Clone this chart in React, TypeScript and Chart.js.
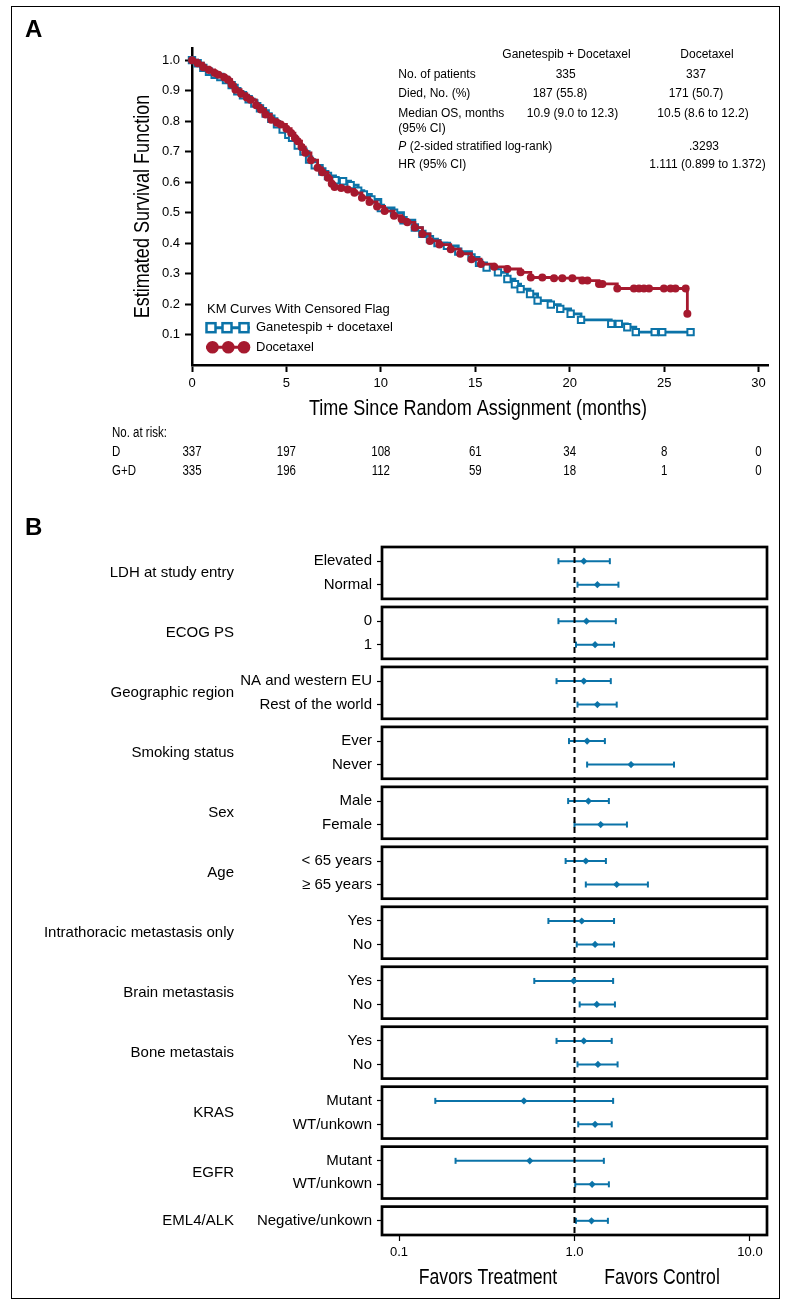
import { useEffect, useRef } from "react";
import Chart from "chart.js/auto";

const BLUE = "#0b73a8";
const RED = "#a6192e";
const FONT = "'Liberation Sans', Arial, Helvetica, sans-serif";
const NARROW_SCALE = 0.82;

// ---------- Panel A: Kaplan-Meier data (time in months, survival) ----------
const armLabels = ["Ganetespib + docetaxel", "Docetaxel"];
const legendTitle = "KM Curves With Censored Flag";
const kmXTitle = "Time Since Random Assignment (months)";
const kmYTitle = "Estimated Survival Function";

const docetaxelCurve: [number, number][] = [
  [0, 1.0], [0.3, 0.99], [0.6, 0.977], [0.9, 0.968], [1.2, 0.958], [1.4, 0.952], [1.7, 0.944],
  [1.9, 0.936], [2.1, 0.92], [2.3, 0.903], [2.6, 0.89], [2.9, 0.878], [3.1, 0.87], [3.4, 0.852],
  [3.65, 0.838], [3.9, 0.822], [4.2, 0.805], [4.5, 0.795], [4.7, 0.789], [5.0, 0.775], [5.25, 0.761],
  [5.45, 0.745], [5.6, 0.734], [5.8, 0.715], [6.0, 0.696], [6.3, 0.672], [6.65, 0.647], [6.9, 0.632],
  [7.2, 0.614], [7.4, 0.595], [7.55, 0.584], [7.9, 0.581], [8.25, 0.576], [8.6, 0.565], [9.0, 0.549],
  [9.4, 0.535], [9.8, 0.52], [10.2, 0.505], [10.7, 0.49], [11.1, 0.478], [11.4, 0.468], [11.8, 0.451],
  [12.2, 0.43], [12.6, 0.407], [13.1, 0.395], [13.7, 0.38], [14.2, 0.365], [14.8, 0.347], [15.3, 0.331],
  [16.0, 0.322], [16.7, 0.315], [17.4, 0.304], [17.94, 0.287], [18.55, 0.287], [19.17, 0.285],
  [19.61, 0.285], [20.14, 0.285], [20.67, 0.277], [20.94, 0.277], [21.55, 0.266], [21.73, 0.266],
  [22.52, 0.251], [23.4, 0.251], [23.67, 0.251], [23.93, 0.251], [24.2, 0.251], [24.99, 0.251],
  [25.34, 0.251], [25.6, 0.251], [26.14, 0.251], [26.23, 0.168],
];

const ganetespibCurve: [number, number][] = [
  [0, 1.0], [0.3, 0.99], [0.6, 0.975], [0.9, 0.962], [1.2, 0.952], [1.5, 0.945], [1.8, 0.935],
  [2.1, 0.918], [2.4, 0.898], [2.7, 0.885], [3.0, 0.872], [3.3, 0.858], [3.6, 0.842], [3.9, 0.825],
  [4.2, 0.808], [4.5, 0.79], [4.8, 0.772], [5.1, 0.755], [5.3, 0.745], [5.6, 0.72], [5.9, 0.7],
  [6.2, 0.674], [6.5, 0.655], [6.9, 0.635], [7.2, 0.62], [7.6, 0.606], [8.0, 0.603], [8.4, 0.59],
  [8.8, 0.572], [9.1, 0.56], [9.5, 0.543], [10.0, 0.515], [10.7, 0.5], [11.2, 0.475], [11.8, 0.451],
  [12.2, 0.43], [12.6, 0.413], [13.0, 0.4], [13.5, 0.391], [14.1, 0.372], [14.8, 0.353], [15.2, 0.335],
  [15.6, 0.32], [16.2, 0.304], [16.7, 0.282], [17.1, 0.265], [17.4, 0.249], [17.9, 0.233], [18.3, 0.211],
  [19.0, 0.198], [19.5, 0.184], [20.05, 0.168], [20.6, 0.148], [22.2, 0.135], [22.6, 0.135],
  [23.05, 0.124], [23.5, 0.108], [24.5, 0.108], [24.9, 0.108], [26.4, 0.108],
];

const kmXTicks = [0, 5, 10, 15, 20, 25, 30];
const kmYTicks = [0.1, 0.2, 0.3, 0.4, 0.5, 0.6, 0.7, 0.8, 0.9, 1.0];

const riskTimes = [0, 5, 10, 15, 20, 25, 30];
const riskRowLabels = ["D", "G+D"];
const riskD = [337, 197, 108, 61, 34, 8, 0];
const riskGD = [335, 196, 112, 59, 18, 1, 0];

const tableHeader = ["Ganetespib + Docetaxel", "Docetaxel"];
const tableLabels = ["No. of patients", "Died, No. (%)", "Median OS, months", "(95% CI)", "(2-sided stratified log-rank)", "HR (95% CI)"];
const tableGD = ["335", "187 (55.8)", "10.9 (9.0 to 12.3)", "", "", ""];
const tableD = ["337", "171 (50.7)", "10.5 (8.6 to 12.2)", "", ".3293", "1.111 (0.899 to 1.372)"];

// ---------- Panel B: forest plot data ----------
const groupNames = [
  "LDH at study entry", "ECOG PS", "Geographic region", "Smoking status", "Sex", "Age",
  "Intrathoracic metastasis only", "Brain metastasis", "Bone metastais", "KRAS", "EGFR", "EML4/ALK",
];
const subgroupLabels = [
  "Elevated", "Normal", "0", "1", "NA and western EU", "Rest of the world", "Ever", "Never",
  "Male", "Female", "< 65 years", "\u2265 65 years", "Yes", "No", "Yes", "No", "Yes", "No",
  "Mutant", "WT/unkown", "Mutant", "WT/unkown", "Negative/unkown",
];
const subgroupGroup = [0, 0, 1, 1, 2, 2, 3, 3, 4, 4, 5, 5, 6, 6, 7, 7, 8, 8, 9, 9, 10, 10, 11];
const hazardRatio = [1.13, 1.35, 1.17, 1.31, 1.13, 1.35, 1.18, 2.1, 1.2, 1.41, 1.16, 1.74, 1.1, 1.31, 0.99, 1.34, 1.13, 1.36, 0.515, 1.31, 0.556, 1.26, 1.25];
const ciLow = [0.81, 1.04, 0.81, 1.02, 0.79, 1.04, 0.93, 1.18, 0.92, 1.0, 0.89, 1.16, 0.71, 1.03, 0.59, 1.07, 0.79, 1.04, 0.161, 1.05, 0.21, 1.01, 1.02];
const ciHigh = [1.59, 1.78, 1.72, 1.68, 1.61, 1.74, 1.49, 3.69, 1.57, 1.99, 1.51, 2.62, 1.68, 1.68, 1.66, 1.7, 1.63, 1.76, 1.66, 1.63, 1.47, 1.57, 1.55];
const forestXTicks = [0.1, 1, 10];
const forestXTickLabels = ["0.1", "1.0", "10.0"];
const favorsLabels = ["Favors Treatment", "Favors Control"];

// layout of panels (derived from the groups above)
const PANEL_STEP = 60;
const ROW_FIRST = 14.2;
const ROW_GAP = 23.5;
const rowY: number[] = [];
const panels: { top: number; bottom: number; mid: number; name: string }[] = [];
groupNames.forEach((name, g) => {
  const top = g * PANEL_STEP;
  const idx = subgroupGroup.map((gg, i) => (gg === g ? i : -1)).filter((i) => i >= 0);
  const ys = idx.map((_, k) => top + ROW_FIRST + k * ROW_GAP);
  idx.forEach((i, k) => (rowY[i] = ys[k]));
  const bottom = ys[ys.length - 1] + ROW_FIRST;
  panels.push({ top, bottom, mid: (ys[0] + ys[ys.length - 1]) / 2, name });
});
const forestYMax = panels[panels.length - 1].bottom;

// draw condensed text (Arial-Narrow-like) by compressing Liberation Sans horizontally
function narrowText(
  ctx: CanvasRenderingContext2D, text: string, x: number, y: number, size: number,
  align: CanvasTextAlign = "left", rotate = 0,
) {
  ctx.save();
  ctx.translate(x, y);
  if (rotate) ctx.rotate(rotate);
  ctx.scale(NARROW_SCALE, 1);
  ctx.font = `${size}px ${FONT}`;
  ctx.textAlign = align;
  ctx.textBaseline = "middle";
  ctx.fillStyle = "#000";
  ctx.fillText(text, 0, 0);
  ctx.restore();
}

export default function App() {
  const kmRef = useRef<HTMLCanvasElement>(null);
  const fpRef = useRef<HTMLCanvasElement>(null);

  useEffect(() => {
    Chart.defaults.font.family = FONT;
    Chart.defaults.color = "#000";

    const kmDecor = {
      id: "kmDecor",
      afterDraw(chart: any) {
        const ctx = chart.ctx as CanvasRenderingContext2D;
        const xs = chart.scales.x;
        const ca = chart.chartArea;
        ctx.save();
        ctx.fillStyle = "#000";
        ctx.textBaseline = "alphabetic";
        ctx.textAlign = "left";
        ctx.font = `bold 24px ${FONT}`;
        ctx.fillText("A", 25, 37);

        // axis titles
        narrowText(ctx, kmXTitle, (ca.left + ca.right) / 2 - 2, 409, 22, "center");
        narrowText(ctx, kmYTitle, 143, (ca.top + ca.bottom) / 2, 22, "center", -Math.PI / 2);

        // summary table
        ctx.textBaseline = "middle";
        ctx.font = `12px ${FONT}`;
        ctx.textAlign = "center";
        ctx.fillText(tableHeader[0], 566.5, 55);
        ctx.fillText(tableHeader[1], 707, 55);
        const rowYs = [74.3, 94, 114, 128.3, 146.7, 165];
        const gdX = [565.7, 560, 572.5, 566, 566, 566];
        const dX = [696, 696, 703, 703, 704, 707.5];
        tableLabels.forEach((lab, i) => {
          ctx.textAlign = "left";
          if (i === 4) {
            ctx.font = `italic 12px ${FONT}`;
            ctx.fillText("P", 398.3, rowYs[i]);
            const w = ctx.measureText("P ").width;
            ctx.font = `12px ${FONT}`;
            ctx.fillText(lab, 398.3 + w, rowYs[i]);
          } else {
            ctx.fillText(lab, 398.3, rowYs[i]);
          }
          ctx.textAlign = "center";
          if (tableGD[i]) ctx.fillText(tableGD[i], gdX[i], rowYs[i]);
          if (tableD[i]) ctx.fillText(tableD[i], dX[i], rowYs[i]);
        });

        // legend
        ctx.textAlign = "left";
        ctx.font = `13px ${FONT}`;
        ctx.fillText(legendTitle, 207, 309);
        ctx.strokeStyle = BLUE;
        ctx.lineWidth = 3;
        ctx.beginPath();
        ctx.moveTo(206, 327.7);
        ctx.lineTo(250, 327.7);
        ctx.stroke();
        [211, 227, 244].forEach((x) => {
          ctx.fillStyle = "#fff";
          ctx.fillRect(x - 4.5, 327.7 - 4.5, 9, 9);
          ctx.lineWidth = 2.5;
          ctx.strokeRect(x - 4.5, 327.7 - 4.5, 9, 9);
        });
        ctx.strokeStyle = RED;
        ctx.lineWidth = 3;
        ctx.beginPath();
        ctx.moveTo(206, 347.3);
        ctx.lineTo(250, 347.3);
        ctx.stroke();
        ctx.fillStyle = RED;
        [212.5, 228.3, 244].forEach((x) => {
          ctx.beginPath();
          ctx.arc(x, 347.3, 6.3, 0, Math.PI * 2);
          ctx.fill();
        });
        ctx.fillStyle = "#000";
        ctx.fillText(armLabels[0], 256, 327.7);
        ctx.fillText(armLabels[1], 256, 347.3);

        // number at risk
        narrowText(ctx, "No. at risk:", 112, 433, 14);
        narrowText(ctx, riskRowLabels[0], 112, 452, 14);
        narrowText(ctx, riskRowLabels[1], 112, 471, 14);
        riskTimes.forEach((t, i) => {
          const px = xs.getPixelForValue(t);
          narrowText(ctx, String(riskD[i]), px, 452, 14, "center");
          narrowText(ctx, String(riskGD[i]), px, 471, 14, "center");
        });
        ctx.restore();
      },
    };

    const km = new Chart(kmRef.current!, {
      type: "scatter",
      data: {
        datasets: [
          {
            label: armLabels[1],
            data: docetaxelCurve.map(([x, y]) => ({ x, y })),
            showLine: true,
            stepped: true,
            borderColor: RED,
            borderWidth: 2.8,
            pointStyle: "circle",
            pointRadius: 4,
            pointBackgroundColor: RED,
            pointBorderColor: RED,
            pointBorderWidth: 0,
            clip: false,
            order: 0,
          } as any,
          {
            label: armLabels[0],
            data: ganetespibCurve.map(([x, y]) => ({ x, y })),
            showLine: true,
            stepped: true,
            borderColor: BLUE,
            borderWidth: 2.8,
            pointStyle: "rect",
            pointRadius: 4.5,
            pointBackgroundColor: "#fff",
            pointBorderColor: BLUE,
            pointBorderWidth: 2,
            clip: false,
            order: 1,
          } as any,
        ],
      },
      options: {
        animation: false,
        responsive: false,
        events: [],
        layout: { padding: { left: 130, right: 23, top: 48, bottom: 75 } },
        plugins: { legend: { display: false }, tooltip: { enabled: false } },
        scales: {
          x: {
            type: "linear",
            min: 0,
            max: 30.5,
            afterFit: (s: any) => { s.height = 60; },
            afterBuildTicks: (a: any) => { a.ticks = kmXTicks.map((v) => ({ value: v })); },
            ticks: { font: { size: 13 }, color: "#000", padding: 4, maxRotation: 0, autoSkip: false, callback: (v: any) => String(v) },
            grid: { drawOnChartArea: false, tickLength: 7, tickWidth: 2, color: "#000" },
            border: { display: true, color: "#000", width: 2.5 },
          },
          y: {
            type: "linear",
            min: 0,
            max: 1.04,
            afterFit: (s: any) => { s.width = 62; },
            afterBuildTicks: (a: any) => { a.ticks = kmYTicks.map((v) => ({ value: v })); },
            ticks: { font: { size: 13 }, color: "#000", padding: 5, autoSkip: false, callback: (v: any) => Number(v).toFixed(1) },
            grid: { drawOnChartArea: false, tickLength: 7, tickWidth: 2, color: "#000" },
            border: { display: true, color: "#000", width: 2.5 },
          },
        },
      },
      plugins: [kmDecor],
    } as any);

    const fpDecor = {
      id: "fpDecor",
      beforeDatasetsDraw(chart: any) {
        const ctx = chart.ctx as CanvasRenderingContext2D;
        const ys = chart.scales.y;
        const { left, right } = chart.chartArea;
        ctx.save();
        ctx.strokeStyle = "#000";
        ctx.lineWidth = 2.7;
        panels.forEach((p) => {
          const t = ys.getPixelForValue(p.top);
          const b = ys.getPixelForValue(p.bottom);
          ctx.strokeRect(left, t, right - left, b - t);
        });
        ctx.restore();
      },
      afterDraw(chart: any) {
        const ctx = chart.ctx as CanvasRenderingContext2D;
        const ys = chart.scales.y;
        ctx.save();
        ctx.fillStyle = "#000";
        ctx.textAlign = "left";
        ctx.textBaseline = "alphabetic";
        ctx.font = `bold 24px ${FONT}`;
        ctx.fillText("B", 25, 35);
        ctx.font = `15px ${FONT}`;
        ctx.textAlign = "right";
        ctx.textBaseline = "middle";
        panels.forEach((p) => ctx.fillText(p.name, 234, ys.getPixelForValue(p.mid)));
        narrowText(ctx, favorsLabels[0], 488, 778, 21.5, "center");
        narrowText(ctx, favorsLabels[1], 662, 778, 21.5, "center");
        ctx.restore();
      },
    };

    const ciSets = subgroupLabels.map((lab, i) => ({
      label: lab,
      data: [{ x: ciLow[i], y: rowY[i] }, { x: ciHigh[i], y: rowY[i] }],
      showLine: true,
      borderColor: BLUE,
      borderWidth: 2,
      pointStyle: "line",
      rotation: 90,
      pointRadius: 3,
      pointBorderColor: BLUE,
      pointBorderWidth: 2,
      order: 2,
    }));

    const fp = new Chart(fpRef.current!, {
      type: "scatter",
      data: {
        datasets: [
          {
            label: "HR",
            data: hazardRatio.map((v, i) => ({ x: v, y: rowY[i] })),
            pointStyle: "rectRot",
            pointRadius: 3.6,
            pointBackgroundColor: BLUE,
            pointBorderColor: BLUE,
            pointBorderWidth: 0,
            order: 0,
          },
          {
            label: "ref",
            data: [{ x: 1, y: 0 }, { x: 1, y: forestYMax }],
            showLine: true,
            borderColor: "#000",
            borderWidth: 2,
            borderDash: [6, 4],
            pointRadius: 0,
            order: 1,
          },
          ...ciSets,
        ],
      },
      options: {
        animation: false,
        responsive: false,
        events: [],
        layout: { padding: { left: 0, right: 24, top: 47, bottom: 0 } },
        plugins: { legend: { display: false }, tooltip: { enabled: false } },
        scales: {
          x: {
            type: "logarithmic",
            min: 0.08,
            max: 12.5,
            afterFit: (s: any) => { s.height = 74; },
            afterBuildTicks: (a: any) => { a.ticks = forestXTicks.map((v) => ({ value: v })); },
            ticks: { font: { size: 13 }, color: "#000", padding: 4, maxRotation: 0, autoSkip: false, callback: (_v: any, i: number) => forestXTickLabels[i] },
            grid: { drawOnChartArea: false, tickLength: 6, tickWidth: 1.2, color: "#000" },
            border: { display: false },
          },
          y: {
            type: "linear",
            min: 0,
            max: forestYMax,
            reverse: true,
            afterFit: (s: any) => { s.width = 382; },
            afterBuildTicks: (a: any) => { a.ticks = rowY.map((v) => ({ value: v })); },
            ticks: { font: { size: 15 }, color: "#000", padding: 5, autoSkip: false, callback: (_v: any, i: number) => subgroupLabels[i] },
            grid: { drawOnChartArea: false, tickLength: 5, tickWidth: 1.2, color: "#000" },
            border: { display: false },
          },
        },
      },
      plugins: [fpDecor],
    } as any);

    return () => {
      km.destroy();
      fp.destroy();
    };
  }, []);

  return (
    <div style={{ position: "absolute", left: 0, top: 0, width: 791, height: 1309, background: "#fff", overflow: "hidden" }}>
      <div style={{ position: "absolute", left: 11, top: 6, width: 769, height: 1293, border: "1px solid #000", boxSizing: "border-box" }} />
      <canvas ref={kmRef} width={791} height={500} style={{ position: "absolute", left: 0, top: 0, width: 791, height: 500 }} />
      <canvas ref={fpRef} width={791} height={809} style={{ position: "absolute", left: 0, top: 500, width: 791, height: 809 }} />
    </div>
  );
}
